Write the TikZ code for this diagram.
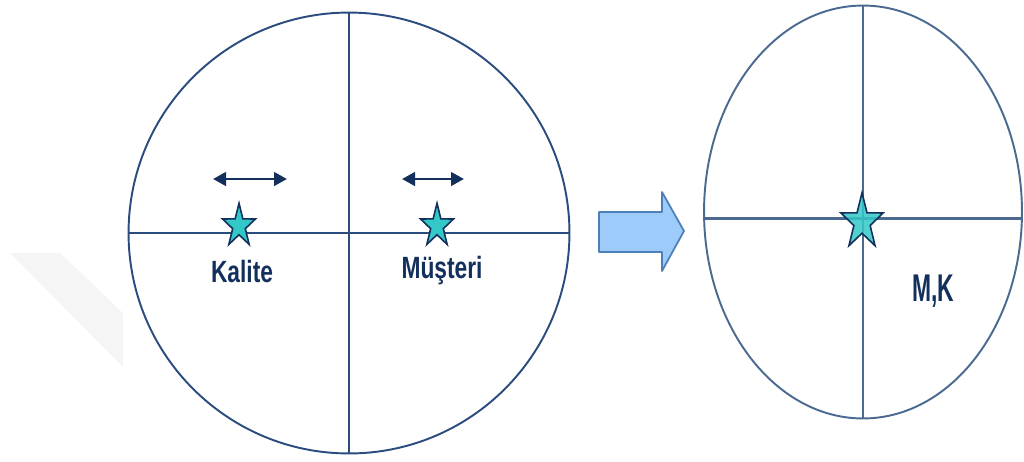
\documentclass[tikz,border=0pt]{standalone}
\usepackage{fontspec}
\setmainfont{Liberation Sans}
\usetikzlibrary{arrows.meta,shapes.geometric}

\definecolor{cizgi}{HTML}{2B4C7E}
\definecolor{acikcizgi}{HTML}{4A6A90}
\definecolor{lacivert}{HTML}{132F5C}
\definecolor{turkuaz}{HTML}{33C8C8}
\definecolor{okdolgu}{HTML}{9DCBFA}
\definecolor{okkenar}{HTML}{4F7FB8}

\tikzset{
  daire/.style={draw=cizgi, line width=1.1pt, inner sep=0pt},
  eksen/.style={draw=cizgi, line width=1.1pt},
  yildiz/.style={shape=star, star points=5, star point ratio=2.6,
    draw=lacivert, fill=turkuaz, line width=0.9pt, inner sep=0pt, xscale=0.76},
  etiket/.style={text=lacivert, font=\bfseries\fontsize{17.5}{20}\selectfont,
    xscale=0.74, inner sep=0pt},
  yon/.style={{Triangle[length=0.26cm,width=0.27cm]}-{Triangle[length=0.26cm,width=0.27cm]},
    draw=lacivert, line width=1.6pt}
}

\begin{document}
\begin{tikzpicture}[x=0.02cm,y=-0.02cm]
\useasboundingbox (0,0) rectangle (1024,461);

% -------------------------------------------------
% Arka plan (soluk iz)
% -------------------------------------------------
\fill[gray!8] (10,253) -- (60,253) -- (123,313) -- (123,367) -- cycle;

% -------------------------------------------------
% Sol daire
% -------------------------------------------------
\node[daire, circle, minimum size=8.82cm] (sol) at (349,233) {};
\draw[eksen] (sol.north) -- (sol.south);
\draw[eksen] (sol.west) -- (sol.east);

\node[yildiz, minimum size=0.91cm] (kyildiz) at (239,226) {};
\node[yildiz, minimum size=0.91cm] (myildiz) at (437,226) {};

\coordinate (k1) at (213,179);
\coordinate (k2) at (287,179);
\coordinate (m1) at (402,179);
\coordinate (m2) at (464,179);
\draw[yon] (k1) -- (k2);
\draw[yon] (m1) -- (m2);

\node[etiket] (kalite) at (242,271) {Kalite};
\node[etiket] (musteri) at (442,271) {Müşteri};

% -------------------------------------------------
% Blok ok
% -------------------------------------------------
\filldraw[fill=okdolgu, draw=okkenar, line width=1pt, line join=round]
  (599,212) -- (662,212) -- (662,192) -- (684,231)
  -- (662,271) -- (662,252) -- (599,252) -- cycle;

% -------------------------------------------------
% Sag elips
% -------------------------------------------------
\node[daire, ellipse, draw=acikcizgi, minimum width=6.36cm, minimum height=8.26cm]
  (sag) at (863,212) {};
\draw[eksen, draw=acikcizgi, line width=1.3pt] (sag.north) -- (sag.south);
\draw[eksen, draw=acikcizgi, line width=1.3pt] ([yshift=-0.13cm]sag.west) -- ([yshift=-0.13cm]sag.east);

\node[yildiz, fill opacity=0.85, minimum size=1.17cm] (mkyildiz) at (862,222) {};

\node[etiket, font=\bfseries\fontsize{22}{24}\selectfont, xscale=0.8] (mk) at (933,291) {M,K};

\end{tikzpicture}
\end{document}
